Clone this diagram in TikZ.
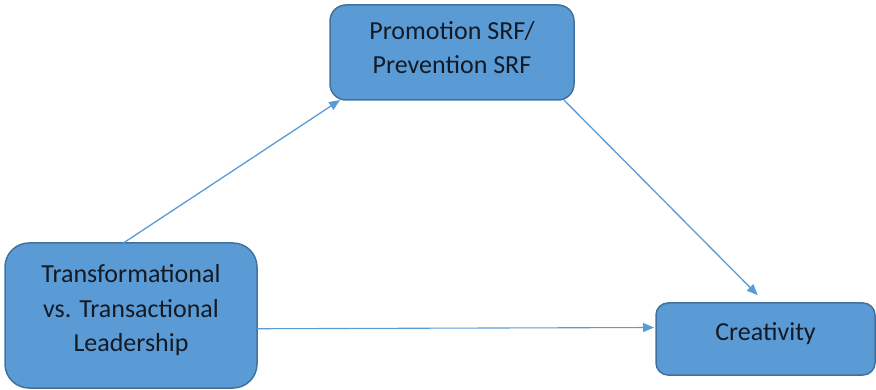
\documentclass[tikz,border=0pt]{standalone}
\usepackage{fontspec}
\setmainfont{Carlito}
\usetikzlibrary{arrows.meta}
\definecolor{boxfill}{HTML}{5B9BD5}
\definecolor{boxline}{HTML}{41719C}
\definecolor{arrowblue}{HTML}{5B9BD5}
\definecolor{inktext}{HTML}{141A24}
\begin{document}
\begin{tikzpicture}[x=1pt,y=-1pt,
  box/.style={draw=boxline, fill=boxfill, line width=1.5pt,
    inner sep=0pt, outer sep=0pt},
  caption/.style={align=center, text=inktext, inner sep=0pt,
    font=\fontsize{26}{34.5}\selectfont},
  link/.style={draw=arrowblue, line width=1.3pt,
    -{Triangle[length=11pt,width=9pt]}}]
  \useasboundingbox (0,0) rectangle (876,390);
  % the three variables
  \node[box, minimum width=244pt, minimum height=95pt, rounded corners=16pt]
    (med) at (452,52.5) {};
  \node[box, minimum width=252pt, minimum height=145pt, rounded corners=24pt]
    (lead) at (131,315.5) {};
  \node[box, minimum width=219pt, minimum height=72pt, rounded corners=12pt]
    (crea) at (765.5,339) {};
  % their captions, set a little above centre
  \node[caption] (medtext) at ([yshift=5pt]med.center) {Promotion SRF/\\Prevention SRF};
  \node[caption] (leadtext) at ([yshift=5pt]lead.center) {Transformational\\vs. Transactional\\Leadership};
  \node[caption] (creatext) at ([yshift=5pt]crea.center) {Creativity};
  % paths between them
  \draw[link] (lead.96.3) -- (med.203.6);
  \draw[link, shorten >=11pt] (med.337.6) -- (crea.north);
  \draw[link, line width=1.1pt, shorten >=2pt] (lead.-6.1) -- (crea.174.3);
\end{tikzpicture}
\end{document}
